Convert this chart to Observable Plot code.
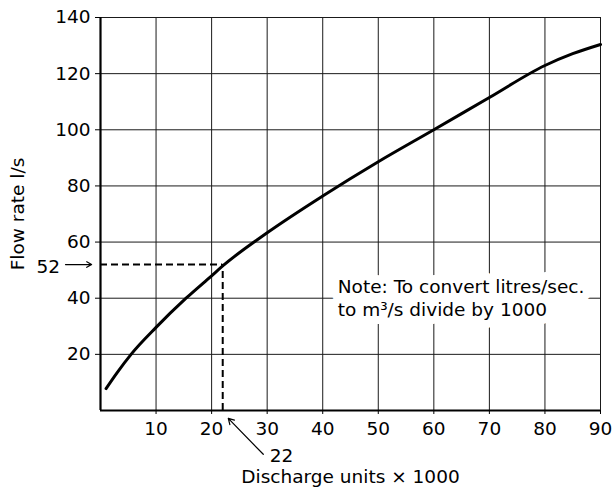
<!DOCTYPE html>
<html>
<head>
<meta charset="utf-8">
<script src="https://cdn.jsdelivr.net/npm/d3@7"></script>
<script src="https://cdn.jsdelivr.net/npm/@observablehq/plot@0.6"></script>
<style>
  html, body { margin: 0; padding: 0; background: white; }
  #chart svg { display: block; }
</style>
</head>
<body>
<div id="chart"></div>
<script>
// Axis ticks
const xTicks = [10, 20, 30, 40, 50, 60, 70, 80, 90];
const yTicks = [20, 40, 60, 80, 100, 120, 140];

// Curve: discharge units (x1000) vs flow rate (l/s)
const discharge = [1, 3, 5.5, 10, 15.4, 20, 22, 30, 40, 50, 60, 70, 80, 85, 90];
const flowRate  = [7.8, 13.5, 20, 29.6, 40, 48, 51.5, 63.3, 76.4, 88.6, 100, 111.5, 122.9, 127.1, 130.4];

// Worked reading
const readDischarge = [22];
const readFlow = [52];

// Annotation anchors (data units)
const flowLabelX = [-7.3];
const flowArrowX = [-6.3, -1.6];
const dischargeLabelXY = [32.6, -16.1];
const dischargeArrowFrom = [29.3, -15.6];
const dischargeArrowTo = [23.0, -2.8];

const noteLines = ["Note: To convert litres/sec.", "to m³/s divide by 1000"];
const noteAnchor = [42.7, 40.25];

const xLabel = ["Discharge units × 1000"];
const yLabel = ["Flow rate l/s"];

const curve = discharge.map((x, i) => ({x, y: flowRate[i]}));
const reading = readDischarge.map((x, i) => ({x, y: readFlow[i]}));

const font = "'DejaVu Sans', 'Liberation Sans', Arial, sans-serif";
const fs = 18.5;

const chart = Plot.plot({
  width: 614,
  height: 493,
  marginLeft: 100,
  marginRight: 14,
  marginTop: 17,
  marginBottom: 83,
  style: {fontFamily: font, fontSize: fs + "px", color: "black", background: "white", overflow: "visible"},
  x: {domain: [0, 90], ticks: xTicks, tickSize: 4, tickPadding: 7, label: null, tickFormat: d => String(d)},
  y: {domain: [0, 140], ticks: yTicks, tickSize: 5, tickPadding: 5, label: null, tickFormat: d => String(d)},
  marks: [
    Plot.ruleX(xTicks, {stroke: "#1a1a1a", strokeWidth: 1}),
    Plot.ruleY(yTicks, {stroke: "#1a1a1a", strokeWidth: 1}),
    Plot.text([noteLines.join("\n")], {
      x: () => noteAnchor[0], y: () => noteAnchor[1], text: d => d,
      textAnchor: "start", lineAnchor: "middle", lineHeight: 1.24,
      fontSize: fs, fill: "black", stroke: "white", strokeWidth: 16
    }),
    Plot.ruleX([0], {stroke: "black", strokeWidth: 2.2}),
    Plot.ruleY([0], {stroke: "black", strokeWidth: 2.2}),
    Plot.ruleY(reading, {y: "y", x1: 0, x2: "x", stroke: "black", strokeWidth: 2, strokeDasharray: "7,4"}),
    Plot.ruleX(reading, {x: "x", y1: 0, y2: "y", stroke: "black", strokeWidth: 2, strokeDasharray: "7,4"}),
    Plot.line(curve, {x: "x", y: "y", curve: "monotone-x", stroke: "black", strokeWidth: 3}),
    Plot.arrow(reading, {x1: () => flowArrowX[0], x2: () => flowArrowX[1], y1: "y", y2: "y", stroke: "black", strokeWidth: 1.2, headLength: 7}),
    Plot.text(reading, {x: () => flowLabelX[0], y: "y", text: d => String(d.y), textAnchor: "end", fontSize: fs, dy: 3}),
    Plot.arrow(reading, {x1: () => dischargeArrowFrom[0], y1: () => dischargeArrowFrom[1], x2: () => dischargeArrowTo[0], y2: () => dischargeArrowTo[1], stroke: "black", strokeWidth: 1.2, headLength: 8}),
    Plot.text(reading, {x: () => dischargeLabelXY[0], y: () => dischargeLabelXY[1], text: d => String(d.x), textAnchor: "middle", fontSize: fs}),
    Plot.text(xLabel, {frameAnchor: "bottom", dy: 72.5, text: d => d, textAnchor: "middle", fontSize: fs}),
    Plot.text(yLabel, {frameAnchor: "left", dx: -82, rotate: -90, text: d => d, textAnchor: "middle", fontSize: fs})
  ]
});

document.getElementById("chart").appendChild(chart);
</script>
</body>
</html>
